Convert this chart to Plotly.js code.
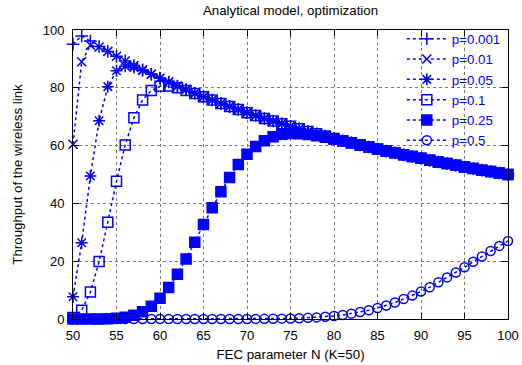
<!DOCTYPE html>
<html>
<head>
<meta charset="utf-8">
<script src="https://cdn.plot.ly/plotly-3.0.1.min.js"></script>
<style>html,body{margin:0;padding:0;background:#fff;}#chart{width:522px;height:365px;}</style>
</head>
<body>
<div id="chart"></div>
<script>
// FEC parameter N (K = 50)
var N = [50,51,52,53,54,55,56,57,58,59,60,61,62,63,64,65,66,67,68,69,70,71,72,73,74,75,76,77,78,79,80,81,82,83,84,85,86,87,88,89,90,91,92,93,94,95,96,97,98,99,100];

var seriesNames = ["p=0.001","p=0.01","p=0.05","p=0.1","p=0.25","p=0.5"];

var p0001 = [95.1,97.9,96.2,94.3,92.6,90.9,89.3,87.7,86.2,84.7,83.3,82.0,80.6,79.4,78.1,76.9,75.8,74.6,73.5,72.5,71.4,70.4,69.4,68.5,67.6,66.7,65.8,64.9,64.1,63.3,62.5,61.7,61.0,60.2,59.5,58.8,58.1,57.5,56.8,56.2,55.6,54.9,54.3,53.8,53.2,52.6,52.1,51.5,51.0,50.5,50.0];
var p001  = [60.5,89.0,94.7,94.1,92.6,90.9,89.3,87.7,86.2,84.7,83.3,82.0,80.6,79.4,78.1,76.9,75.8,74.6,73.5,72.5,71.4,70.4,69.4,68.5,67.6,66.7,65.8,64.9,64.1,63.3,62.5,61.7,61.0,60.2,59.5,58.8,58.1,57.5,56.8,56.2,55.6,54.9,54.3,53.8,53.2,52.6,52.1,51.5,51.0,50.5,50.0];
var p005  = [7.7,26.4,49.5,68.6,80.4,85.9,87.5,87.0,86.0,84.7,83.3,82.0,80.6,79.4,78.1,76.9,75.8,74.6,73.5,72.5,71.4,70.4,69.4,68.5,67.6,66.7,65.8,64.9,64.1,63.3,62.5,61.7,61.0,60.2,59.5,58.8,58.1,57.5,56.8,56.2,55.6,54.9,54.3,53.8,53.2,52.6,52.1,51.5,51.0,50.5,50.0];
var p01   = [0.5,3.0,9.3,19.9,33.5,47.7,60.2,69.6,75.8,79.1,80.5,80.6,80.0,79.1,78.0,76.9,75.8,74.6,73.5,72.5,71.4,70.4,69.4,68.5,67.6,66.7,65.8,64.9,64.1,63.3,62.5,61.7,61.0,60.2,59.5,58.8,58.1,57.5,56.8,56.2,55.6,54.9,54.3,53.8,53.2,52.6,52.1,51.5,51.0,50.5,50.0];
var p025  = [0,0,0.01,0.02,0.08,0.24,0.6,1.3,2.5,4.4,7.2,10.9,15.5,20.8,26.6,32.7,38.5,44.0,49.0,53.5,57.0,59.7,61.7,63.1,63.9,64.2,64.1,63.8,63.4,62.9,62.2,61.6,60.9,60.2,59.5,58.8,58.1,57.5,56.8,56.2,55.6,54.9,54.3,53.8,53.2,52.6,52.1,51.5,51.0,50.5,50.0];
var p05   = [0,0,0,0,0,0,0,0,0,0,0,0,0,0,0,0,0,0,0,0,0.02,0.03,0.05,0.08,0.12,0.19,0.27,0.4,0.56,0.77,1.05,1.4,1.85,2.4,3.0,3.8,4.7,5.7,6.9,8.1,9.5,11.0,12.7,14.4,16.1,17.9,19.8,21.6,23.5,25.3,27.0];

var values = [p0001, p001, p005, p01, p025, p05];
var symbols = ["cross-thin-open","x-thin-open","asterisk-open","square-open","square","circle-open"];
var sizes = [9, 9, 10, 10, 10, 9];

var BLUE = "#0000ff";
var FONT = "Liberation Sans, Arial, sans-serif";

var traces = values.map(function (v, i) {
  return {
    x: N, y: v, name: seriesNames[i], type: "scatter", mode: "lines+markers",
    cliponaxis: false,
    line: {color: BLUE, width: 1.5, dash: "dot"},
    marker: {symbol: symbols[i], size: sizes[i], color: BLUE,
             line: {color: BLUE, width: 1.5}}
  };
});

var axisCommon = {
  showline: true, linecolor: "#000", linewidth: 1, mirror: "ticks",
  ticks: "inside", ticklen: 6, tickcolor: "#000", tickwidth: 1,
  showgrid: true, gridcolor: "#777", griddash: "dot", gridwidth: 1,
  zeroline: false, tickfont: {family: FONT, size: 13, color: "#000"}
};

var layout = {
  width: 522, height: 365,
  margin: {l: 73, r: 14, t: 30, b: 46},
  paper_bgcolor: "#fff", plot_bgcolor: "#fff",
  font: {family: FONT, size: 13, color: "#000"},
  title: {text: "Analytical model, optimization", font: {family: FONT, size: 13.3, color: "#000"},
          x: 0.5, xref: "paper", xanchor: "center", y: 0.972, yref: "container", yanchor: "middle"},
  xaxis: Object.assign({}, axisCommon, {
    range: [50, 100], dtick: 5, tick0: 50, ticklabelstandoff: 4,
    title: {text: "FEC parameter N (K=50)", font: {family: FONT, size: 13.3, color: "#000"}, standoff: 8}
  }),
  yaxis: Object.assign({}, axisCommon, {
    range: [0, 100], dtick: 20, tick0: 0, ticklabelstandoff: 5,
    title: {text: "Throughput of the wireless link", font: {family: FONT, size: 13.3, color: "#000"}, standoff: 17}
  }),
  showlegend: true,
  legend: {x: 0.995, xanchor: "right", y: 1.022, yanchor: "top", bgcolor: "rgba(0,0,0,0)",
           font: {family: FONT, size: 13.3, color: BLUE}, itemwidth: 40, tracegroupgap: 0}
};

Plotly.newPlot("chart", traces, layout, {displayModeBar: false, staticPlot: true});
</script>
</body>
</html>
